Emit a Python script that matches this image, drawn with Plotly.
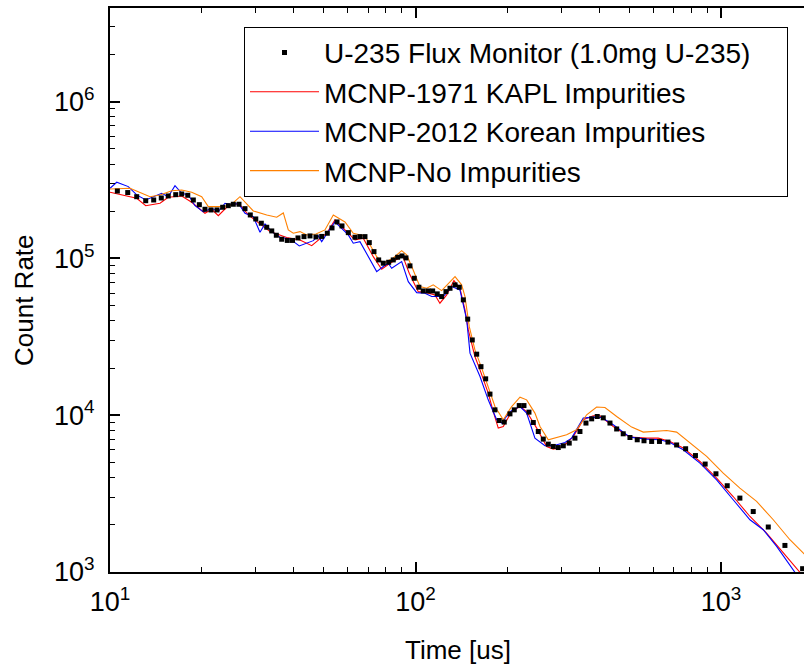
import plotly.graph_objects as go

# Measured U-235 flux monitor data
t_meas = [10.57, 11.43, 12.23, 13.09, 13.90, 14.72, 15.51, 16.41, 17.17, 17.97,
          18.74, 19.61, 20.46, 21.41, 22.40, 23.38, 24.39, 25.33, 26.44, 27.66,
          28.79, 30.0, 31.28, 32.59, 33.84, 35.03, 36.48, 38.05, 39.57, 41.24,
          43.15, 45.15, 47.23, 49.31, 51.44, 53.30, 55.34, 57.46, 60.26, 63.38,
          65.80, 68.33, 70.59, 73.13, 75.77, 78.44, 81.70, 84.57, 87.42, 90.31,
          93.07, 95.92, 99.08, 102.6, 106.0, 110.1, 113.8, 117.8, 121.8, 125.8,
          129.7, 134.7, 139.1, 143.4, 148.2, 153.4, 158.6, 163.8, 169.7, 175.3,
          182.0, 188.0, 195.2, 203.8, 210.5, 218.6, 226.5, 235.2, 243.0, 252.3,
          262.0, 272.0, 282.5, 293.3, 304.6, 318.6, 332.6, 345.4, 361.4, 377.3,
          393.4, 411.7, 433.1, 455.5, 478.6, 503.5, 531.9, 559.7, 593.0, 628.9,
          670.5, 715.8, 766.0, 824.9, 887.4, 962.6, 1048, 1153, 1275, 1428,
          1619, 1850]
c_meas = [2.69e5, 2.63e5, 2.475e5, 2.334e5, 2.358e5, 2.429e5, 2.502e5, 2.55e5, 2.576e5, 2.527e5,
          2.358e5, 2.201e5, 2.058e5, 2.037e5, 2.037e5, 2.119e5, 2.169e5, 2.215e5, 2.215e5, 2.076e5,
          1.893e5, 1.785e5, 1.676e5, 1.58e5, 1.497e5, 1.405e5, 1.325e5, 1.302e5, 1.302e5, 1.351e5,
          1.377e5, 1.391e5, 1.371e5, 1.381e5, 1.447e5, 1.564e5, 1.708e5, 1.611e5, 1.46e5, 1.365e5,
          1.377e5, 1.377e5, 1.261e5, 1.105e5, 9.78e4, 9.32e4, 9.45e4, 9.78e4, 1.017e5, 1.037e5,
          1.007e5, 8.96e4, 7.47e4, 6.55e4, 6.2e4, 6.2e4, 6.2e4, 5.94e4, 5.71e4, 6.14e4,
          6.45e4, 6.78e4, 6.55e4, 5.44e4, 4.1e4, 3.02e4, 2.45e4, 2.04e4, 1.706e4, 1.363e4,
          1.082e4, 9.25e3, 9.04e3, 1.02e4, 1.082e4, 1.152e4, 1.152e4, 1.046e4, 8.98e3, 7.87e3,
          7.04e3, 6.54e3, 6.32e3, 6.22e3, 6.38e3, 6.64e3, 7.14e3, 7.87e3, 8.91e3, 9.48e3,
          9.81e3, 9.62e3, 8.91e3, 8.17e3, 7.61e3, 7.21e3, 6.97e3, 6.87e3, 6.8e3, 6.8e3,
          6.74e3, 6.46e3, 6.11e3, 5.53e3, 4.88e3, 4.23e3, 3.55e3, 2.96e3, 2.43e3, 1.936e3,
          1.477e3, 1.05e3]

# MCNP - 1971 KAPL impurities
t_kapl = [10.0, 10.92, 12.23, 13.09, 14.58, 15.51, 17.17, 18.51, 20.46, 21.52,
          22.62, 24.1, 25.33, 26.64, 28.36, 30.97, 33.4, 37.87, 41.87, 45.74,
          48.68, 51.21, 54.5, 59.53, 63.38, 67.45, 72.74, 77.5, 82.5, 90.8,
          95.4, 102.1, 108.8, 115.8, 120.2, 126.5, 133.6, 139.8, 145.2, 148.9,
          156.5, 162.6, 173.0, 179.7, 186.6, 193.8, 206.4, 219.8, 231.1, 249.3,
          268.8, 282.5, 304.6, 328.5, 354.1, 381.8, 401.6, 444.0, 503.5, 571.2,
          623.3, 680.8, 752.4, 853.3, 967.6, 1096, 1244, 1410, 1598, 1813, 1954]
c_kapl = [2.64e5, 2.54e5, 2.418e5, 2.169e5, 2.247e5, 2.454e5, 2.502e5, 2.28e5, 1.941e5, 2.058e5,
          1.874e5, 2.119e5, 2.247e5, 2.192e5, 1.893e5, 1.659e5, 1.482e5, 1.36e5, 1.312e5, 1.206e5,
          1.325e5, 1.447e5, 1.759e5, 1.482e5, 1.312e5, 1.345e5, 1.026e5, 8.53e4, 9.32e4, 1.037e5,
          8.04e4, 6.14e4, 6.05e4, 5.85e4, 5.18e4, 5.85e4, 7.22e4, 6.45e4, 4.7e4, 3.5e4,
          2.366e4, 1.947e4, 1.383e4, 1.055e4, 8.27e3, 8.47e3, 1.055e4, 1.136e4, 1.055e4, 8.27e3,
          6.32e3, 6.08e3, 6.32e3, 7.31e3, 9.35e3, 9.91e3, 9.91e3, 8.47e3, 7.25e3, 7.14e3,
          7.14e3, 6.8e3, 6.17e3, 5.07e3, 3.97e3, 3.03e3, 2.26e3, 1.772e3, 1.322e3, 995, 855]

# MCNP - 2012 Korean impurities
t_kor = [10.0, 10.52, 11.48, 12.23, 13.09, 14.76, 15.51, 16.32, 17.17, 18.05,
         18.98, 20.21, 21.52, 22.62, 23.79, 25.33, 26.3, 27.66, 29.45, 30.97,
         32.17, 33.84, 36.01, 38.83, 41.65, 46.29, 48.07, 49.31, 51.7, 54.5,
         60.26, 62.56, 65.8, 70.05, 74.64, 78.44, 81.46, 83.57, 90.1, 94.7,
         100.9, 107.4, 113.0, 123.3, 131.4, 139.8, 147.1, 150.8, 158.6, 162.6,
         173.0, 184.4, 191.4, 203.8, 219.8, 231.1, 246.0, 265.3, 282.5, 308.5,
         324.4, 354.1, 381.8, 406.7, 444.0, 503.5, 571.2, 631.3, 680.8, 752.4,
         853.3, 967.6, 1096, 1244, 1375, 1521, 1746, 1883]
c_kor = [2.8e5, 3.06e5, 2.87e5, 2.54e5, 2.358e5, 2.6e5, 2.475e5, 2.91e5, 2.6e5, 2.54e5,
         2.169e5, 1.978e5, 2.089e5, 1.987e5, 2.247e5, 2.192e5, 2.247e5, 1.941e5, 1.846e5, 1.469e5,
         1.659e5, 1.482e5, 1.365e5, 1.331e5, 1.201e5, 1.298e5, 1.391e5, 1.279e5, 1.475e5, 1.708e5,
         1.411e5, 1.25e5, 1.279e5, 1.026e5, 8.24e4, 8.87e4, 9.32e4, 8.66e4, 9.54e4, 7.11e4,
         6.05e4, 6.0e4, 5.71e4, 5.71e4, 6.61e4, 6.3e4, 4.05e4, 2.487e4, 1.947e4, 1.764e4,
         1.253e4, 9.35e3, 8.91e3, 1.055e4, 1.136e4, 1.031e4, 7.14e3, 6.38e3, 6.38e3, 6.7e3,
         7.14e3, 9.58e3, 9.72e3, 9.66e3, 8.69e3, 7.25e3, 7.04e3, 6.97e3, 6.7e3, 6.02e3,
         4.95e3, 3.87e3, 2.89e3, 2.154e3, 1.86e3, 1.456e3, 995, 842]

# MCNP - no impurities
t_none = [10.0, 11.63, 12.54, 13.52, 14.58, 15.92, 17.17, 18.51, 19.96, 20.98,
          22.91, 24.71, 26.64, 29.45, 32.59, 35.13, 36.92, 38.34, 39.81, 41.87,
          44.04, 47.23, 50.54, 53.82, 58.77, 62.56, 68.33, 74.64, 78.44, 84.57,
          90.1, 93.56, 97.2, 103.4, 108.8, 114.3, 121.8, 128.0, 134.7, 141.6,
          145.2, 150.0, 156.5, 164.7, 173.0, 182.0, 193.8, 206.4, 219.8, 231.1,
          246.0, 255.6, 272.0, 286.1, 312.4, 336.9, 363.3, 391.7, 417.0, 455.5,
          510.0, 556.6, 615.6, 663.9, 715.8, 791.2, 897.5, 1017, 1153, 1308,
          1483, 1681, 1897]
c_none = [2.77e5, 2.8e5, 2.63e5, 2.475e5, 2.54e5, 2.7e5, 2.73e5, 2.64e5, 2.475e5, 2.138e5,
          2.138e5, 2.169e5, 2.475e5, 2.007e5, 1.893e5, 1.83e5, 1.95e5, 1.519e5, 1.447e5, 1.482e5,
          1.411e5, 1.432e5, 1.519e5, 1.893e5, 1.708e5, 1.447e5, 1.391e5, 1.026e5, 9.32e4, 1.007e5,
          1.121e5, 1.052e5, 8.87e4, 6.61e4, 6.45e4, 6.78e4, 6.23e4, 6.88e4, 7.65e4, 6.78e4,
          5.71e4, 3.67e4, 2.61e4, 1.995e4, 1.523e4, 1.136e4, 9.35e3, 1.136e4, 1.304e4, 1.253e4,
          1.031e4, 8.47e3, 6.97e3, 7.14e3, 7.5e3, 8.07e3, 1.006e4, 1.127e4, 1.12e4, 9.81e3,
          8.4e3, 7.8e3, 7.95e3, 7.99e3, 7.8e3, 6.64e3, 5.46e3, 4.27e3, 3.43e3, 2.82e3,
          2.154e3, 1.606e3, 1.27e3]

x_tickvals = [10, 100, 1000]
x_ticktext = ["10<sup>1</sup>", "10<sup>2</sup>", "10<sup>3</sup>"]
y_tickvals = [1e3, 1e4, 1e5, 1e6]
y_ticktext = ["10<sup>3</sup>", "10<sup>4</sup>", "10<sup>5</sup>", "10<sup>6</sup>"]

FONT = "Liberation Sans, Arial, Helvetica, sans-serif"
PAD = "&nbsp;" * 4

fig = go.Figure()
fig.add_trace(go.Scatter(x=t_kapl, y=c_kapl, mode="lines", name="MCNP-1971 KAPL Impurities",
                         line=dict(color="#FF0000", width=1.1), legendrank=2))
fig.add_trace(go.Scatter(x=t_kor, y=c_kor, mode="lines", name="MCNP-2012 Korean Impurities",
                         line=dict(color="#0000FF", width=1.1), legendrank=3))
fig.add_trace(go.Scatter(x=t_none, y=c_none, mode="lines", name="MCNP-No Impurities",
                         line=dict(color="#FF8000", width=1.1), legendrank=4))
fig.add_trace(go.Scatter(x=t_meas, y=c_meas, mode="markers",
                         name="U-235 Flux Monitor (1.0mg U-235)" + PAD,
                         marker=dict(symbol="square", size=5, color="black", line=dict(width=0)),
                         legendrank=1))

common_axis = dict(type="log", showgrid=False, zeroline=False, showline=True,
                   linecolor="black", linewidth=2, ticks="inside", ticklen=10,
                   tickwidth=1.5, tickcolor="black",
                   tickfont=dict(family=FONT, size=27, color="black"),
                   minor=dict(ticks="inside", ticklen=5, tickwidth=1.2, tickcolor="black",
                              dtick="D1", showgrid=False))

fig.update_layout(
    width=804, height=668,
    margin=dict(l=110, r=0, t=8, b=96),
    paper_bgcolor="white", plot_bgcolor="white",
    font=dict(family=FONT, color="black"),
    xaxis=dict(range=[1, 3.2717], tickvals=x_tickvals, ticktext=x_ticktext,
               mirror="ticks", ticklabelstandoff=5, **common_axis),
    yaxis=dict(range=[3, 6.597], tickvals=y_tickvals, ticktext=y_ticktext,
               mirror=False, ticklabelstandoff=8, **common_axis),
    yaxis2=dict(type="log", range=[3, 6.597], overlaying="y", side="right",
                showgrid=False, zeroline=False, showline=False, showticklabels=False,
                ticks="inside", ticklen=10, tickwidth=1.5, tickcolor="black",
                tickvals=y_tickvals,
                minor=dict(ticks="inside", ticklen=5, tickwidth=1.2, tickcolor="black",
                           dtick="D1", showgrid=False)),
    showlegend=True,
    legend=dict(x=(244 - 110) / 694, y=1 - (26.7 - 8) / 564, xanchor="left", yanchor="top",
                bgcolor="white", bordercolor="black", borderwidth=1,
                font=dict(family=FONT, size=28, color="black"),
                itemwidth=69, tracegroupgap=0),
    annotations=[
        dict(text="Count Rate", x=(24 - 110) / 694, y=1 - (300 - 8) / 564,
             xref="paper", yref="paper", xanchor="center", yanchor="middle",
             textangle=-90, showarrow=False, font=dict(family=FONT, size=26, color="black")),
        dict(text="Time [us]", x=(458 - 110) / 694, y=-(650 - 572) / 564,
             xref="paper", yref="paper", xanchor="center", yanchor="middle",
             showarrow=False, font=dict(family=FONT, size=26, color="black")),
    ],
)

fig.write_html("out.html")
